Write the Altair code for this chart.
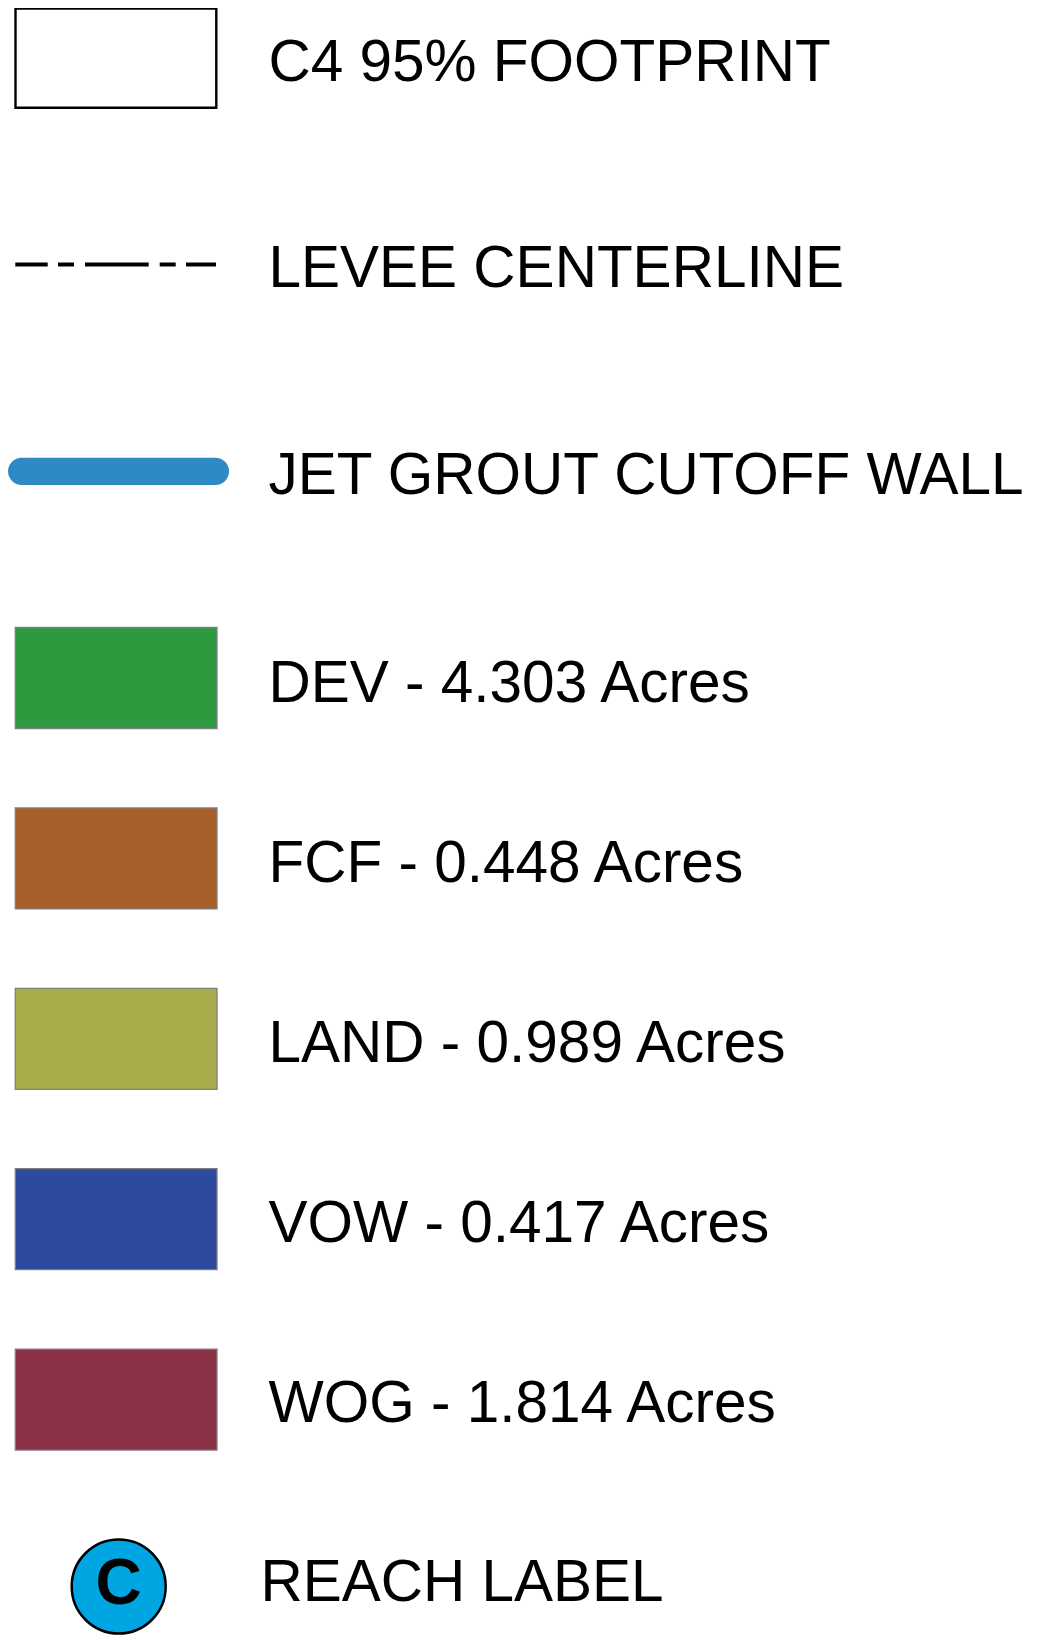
import altair as alt
import pandas as pd

# ---------------- data ----------------
footprint_label = ["C4 95% FOOTPRINT"]
line_labels = ["LEVEE CENTERLINE", "JET GROUT CUTOFF WALL"]
cover_codes = ["DEV", "FCF", "LAND", "VOW", "WOG"]
cover_acres = [4.303, 0.448, 0.989, 0.417, 1.814]
cover_colors = ["#2E9A40", "#A85F2A", "#A8AC4A", "#2E4A9E", "#8B3145"]
reach_letter = ["C"]
reach_label = ["REACH LABEL"]
wall_color = "#2E89C5"
reach_fill = "#00A6E2"

# ---------------- layout (page pixels) ----------------
W, H = 1022, 1630
M = 8  # page margin
FONT = "Liberation Sans"

xs = alt.Scale(domain=[0, W], range=[0, W])
ys = alt.Scale(domain=[0, H], range=[0, H])


def X(f):
    return alt.X(f, type="quantitative", scale=xs, axis=None)


def Y(f):
    return alt.Y(f, type="quantitative", scale=ys, axis=None)


# rectangles (footprint + land cover swatches)
rect_rows = [dict(x0=15.5 - M, x1=216.3 - M, y0=8.6 - M, y1=107.7 - M,
                  fill="#FFFFFF", stroke="#000000", sw=2.4)]
for i, c in enumerate(cover_colors):
    top = 627.5 + i * 180.4
    rect_rows.append(dict(x0=15.3 - M, x1=217.0 - M, y0=top - M, y1=top + 101 - M,
                          fill=c, stroke="#7F7F7F", sw=1.3))
rect_df = pd.DataFrame(rect_rows)

rects = alt.Chart(rect_df).mark_rect().encode(
    x=X("x0"), x2="x1", y=Y("y0"), y2="y1",
    fill=alt.Fill("fill:N", scale=None),
    stroke=alt.Stroke("stroke:N", scale=None),
    strokeWidth=alt.StrokeWidth("sw:Q", scale=None),
)

# levee centerline (dash-dot pattern)
levee_df = pd.DataFrame([dict(x0=15.3 - M, x1=216.0 - M, y=264.5 - M)])
levee = alt.Chart(levee_df).mark_rule(
    color="#000000", strokeWidth=4.2, strokeCap="butt",
    strokeDash=[32.4, 10.3, 16, 11, 63.7, 11, 16, 10.3, 30, 300],
).encode(x=X("x0"), x2="x1", y=Y("y"))

# jet grout cutoff wall
wall_df = pd.DataFrame([dict(x0=21.7 - M, x1=215.4 - M, y=471.3 - M)])
wall = alt.Chart(wall_df).mark_rule(
    color=wall_color, strokeWidth=27.3, strokeCap="round",
).encode(x=X("x0"), x2="x1", y=Y("y"))

# reach label circle
circ_df = pd.DataFrame([dict(x=118.7 - M, y=1586.5 - M, letter=reach_letter[0])])
circle = alt.Chart(circ_df).mark_point(
    shape="circle", filled=True, fill=reach_fill, stroke="#000000",
    strokeWidth=2.5, size=94 * 94, opacity=1,
).encode(x=X("x"), y=Y("y"))
letter = alt.Chart(circ_df).mark_text(
    font=FONT, fontWeight="bold", fontSize=64, align="center", baseline="alphabetic",
    color="#000000", dy=17.5,
).encode(x=X("x"), y=Y("y"), text="letter:N")

# text labels
lab_rows = [
    dict(x=268.5 - M, y=80.7 - M, t=footprint_label[0]),
    dict(x=268.5 - M, y=286.5 - M, t=line_labels[0]),
    dict(x=268.5 - M, y=493.5 - M, t=line_labels[1]),
]
for i, (c, a) in enumerate(zip(cover_codes, cover_acres)):
    lab_rows.append(dict(x=268.5 - M, y=702 + i * 180 - M, t=f"{c} - {a:.3f} Acres"))
lab_rows.append(dict(x=260.5 - M, y=1601 - M, t=reach_label[0]))
lab_df = pd.DataFrame(lab_rows)
labels = alt.Chart(lab_df).mark_text(
    font=FONT, fontSize=58.5, align="left", baseline="alphabetic", color="#000000",
).encode(x=X("x"), y=Y("y"), text="t:N")

chart = alt.layer(rects, levee, wall, circle, letter, labels).properties(
    width=W, height=H, padding=0,
    autosize=alt.AutoSizeParams(type="none"),
    background="#FFFFFF",
).configure_view(stroke=None)

chart.save("out.html", embed_options={"renderer": "svg", "actions": False})
